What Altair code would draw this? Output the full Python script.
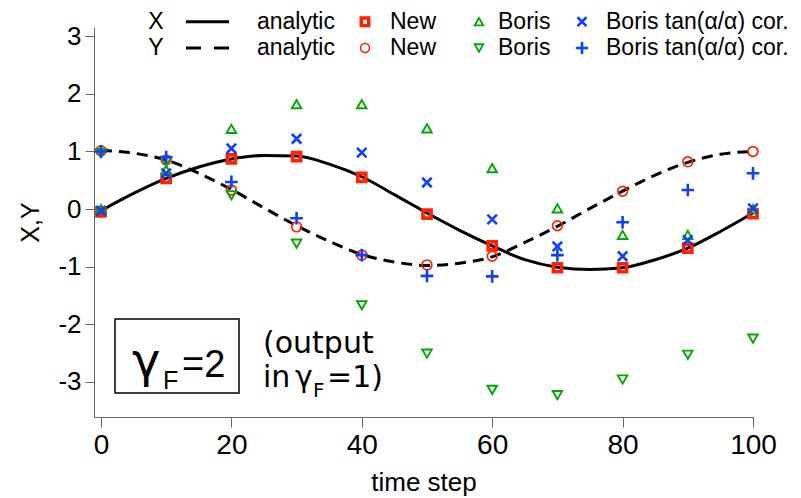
import altair as alt
import pandas as pd

# ---------------- data ----------------
t_marks = [0, 10, 20, 30, 40, 50, 60, 70, 80, 90, 100]
new_x = [-0.05, 0.53, 0.87, 0.91, 0.55, -0.09, -0.64, -1.02, -1.02, -0.68, -0.08]
new_y = [1.01, 0.85, 0.33, -0.31, -0.80, -0.97, -0.82, -0.29, 0.31, 0.82, 1.00]
boris_x = [0.00, 0.68, 1.39, 1.82, 1.82, 1.40, 0.71, 0.01, -0.45, -0.45, 0.00]
boris_y = [0.97, 0.82, 0.24, -0.60, -1.67, -2.51, -3.14, -3.23, -2.96, -2.53, -2.25]
cor_x = [-0.03, 0.62, 1.05, 1.22, 0.98, 0.46, -0.18, -0.65, -0.82, -0.54, 0.01]
cor_y = [1.00, 0.90, 0.47, -0.16, -0.80, -1.16, -1.17, -0.80, -0.23, 0.33, 0.62]

t_analytic = [0, 5, 10, 15, 20, 25, 30, 35, 40, 45, 50,
              55, 60, 65, 70, 75, 80, 85, 90, 95, 100]
analytic_x = [-0.03, 0.27, 0.53, 0.73, 0.87, 0.93, 0.92, 0.78, 0.56, 0.25, -0.07,
              -0.37, -0.64, -0.88, -1.01, -1.05, -1.02, -0.88, -0.68, -0.39, -0.07]
analytic_y = [1.02, 0.97, 0.85, 0.62, 0.34, 0.02, -0.29, -0.56, -0.79, -0.92, -0.98,
              -0.94, -0.83, -0.58, -0.30, 0.01, 0.31, 0.59, 0.81, 0.95, 1.00]

x_ticks = [0, 20, 40, 60, 80, 100]
y_ticks = [-3, -2, -1, 0, 1, 2, 3]

# ---------------- styling ----------------
RED = "#ff2200"
GREEN = "#00a800"
BLUE = "#1040ff"
FONT = "Liberation Sans"
HAND = "DejaVu Sans"
X_SHAPE = "M-1,-1L1,1M-1,1L1,-1"
PLUS_SHAPE = "M-1,0L1,0M0,-1L0,1"

W, H = 659, 390
xs = alt.Scale(domain=[-1.07, 100], nice=False, zero=False)
ys = alt.Scale(domain=[-3.611, 3.16], nice=False, zero=False)

x_axis = alt.Axis(values=x_ticks, title="time step", grid=False,
                  labelFont=FONT, labelFontSize=28, labelColor="black",
                  titleFont=FONT, titleFontSize=26, titleFontWeight="normal",
                  titleColor="black", tickSize=10, tickColor="#666",
                  domainColor="#666", labelPadding=4, titlePadding=10,
                  labelFlush=False, labelOverlap=False)
y_axis = alt.Axis(values=y_ticks, title="X,Y", grid=False,
                  labelExpr="'' + datum.value",
                  labelFont=FONT, labelFontSize=26, labelColor="black",
                  titleFont=FONT, titleFontSize=25, titleFontWeight="normal",
                  titleColor="black", tickSize=9, tickColor="#666",
                  domainColor="#666", labelPadding=4, titlePadding=14,
                  labelFlush=False, labelOverlap=False)


def series(t, v):
    return pd.DataFrame({"t": t, "v": v})


def enc(ch):
    return ch.encode(
        x=alt.X("t:Q", scale=xs, axis=x_axis),
        y=alt.Y("v:Q", scale=ys, axis=y_axis),
    )


line_x = enc(alt.Chart(series(t_analytic, analytic_x)).mark_line(
    color="black", strokeWidth=3, interpolate="monotone"))
line_y = enc(alt.Chart(series(t_analytic, analytic_y)).mark_line(
    color="black", strokeWidth=3, strokeDash=[11, 7], interpolate="monotone"))

pt_new_x = enc(alt.Chart(series(t_marks, new_x)).mark_point(
    shape="square", filled=False, color=RED, size=64, strokeWidth=3.7, opacity=1))
pt_new_y = enc(alt.Chart(series(t_marks, new_y)).mark_point(
    shape="circle", filled=False, color=RED, size=95, strokeWidth=1.7, opacity=1))
pt_boris_x = enc(alt.Chart(series(t_marks, boris_x)).mark_point(
    shape="triangle-up", filled=False, color=GREEN, size=90, strokeWidth=1.9, opacity=1))
pt_boris_y = enc(alt.Chart(series(t_marks, boris_y)).mark_point(
    shape="triangle-down", filled=False, color=GREEN, size=90, strokeWidth=1.9, opacity=1))
pt_cor_x = enc(alt.Chart(series(t_marks, cor_x)).mark_point(
    shape=X_SHAPE, filled=False, color=BLUE, size=90, strokeWidth=2.6, opacity=1))
pt_cor_y = enc(alt.Chart(series(t_marks, cor_y)).mark_point(
    shape=PLUS_SHAPE, filled=False, color=BLUE, size=160, strokeWidth=2.6, opacity=1))

# ---------------- legend & annotations (pixel layout) ----------------
one = alt.Data(values=[{"k": 1}])


def txt(s, x, y, size, font=FONT, align="left", baseline="middle"):
    return alt.Chart(one).mark_text(text=s, fontSize=size, font=font, align=align,
                                    baseline=baseline, color="black").encode(
        x=alt.value(x), y=alt.value(y))


def sym(shape, x, y, color, size, sw):
    return alt.Chart(one).mark_point(shape=shape, filled=False, color=color, size=size,
                                     strokeWidth=sw, opacity=1).encode(
        x=alt.value(x), y=alt.value(y))


R1, R2 = -5.3, 21.0
LEG = 23
legend = [
    txt("X", 62, R1, LEG, align="center"),
    txt("Y", 62, R2, LEG, align="center"),
    alt.Chart(one).mark_rule(color="black", strokeWidth=3).encode(
        x=alt.value(92), x2=alt.value(135), y=alt.value(R1)),
    alt.Chart(one).mark_rule(color="black", strokeWidth=3, strokeDash=[15, 13]).encode(
        x=alt.value(92), x2=alt.value(135), y=alt.value(R2)),
    txt("analytic", 163, R1, LEG),
    txt("analytic", 163, R2, LEG),
    sym("square", 271, R1, RED, 56, 3.5),
    sym("circle", 271, R2, RED, 80, 1.6),
    txt("New", 296, R1, LEG),
    txt("New", 296, R2, LEG),
    sym("triangle-up", 385, R1, GREEN, 75, 1.8),
    sym("triangle-down", 385, R2, GREEN, 75, 1.8),
    txt("Boris", 404, R1, LEG),
    txt("Boris", 404, R2, LEG),
    sym(X_SHAPE, 488, R1, BLUE, 80, 2.6),
    sym(PLUS_SHAPE, 488, R2, BLUE, 150, 2.6),
    txt("Boris tan(\u03b1/\u03b1) cor.", 512, R1, LEG),
    txt("Boris tan(\u03b1/\u03b1) cor.", 512, R2, LEG),
]

box = alt.Chart(one).mark_rect(fill="white", stroke="black", strokeWidth=1.5).encode(
    x=alt.value(21), x2=alt.value(145), y=alt.value(292), y2=alt.value(366))

notes = [
    box,
    txt("\u03b3", 38, 350, 48, font="DejaVu Sans", baseline="alphabetic"),
    txt("F", 69, 362, 25, baseline="alphabetic"),
    txt("=2", 88, 350, 38, baseline="alphabetic"),
    txt("(output", 169, 326, 30, font=HAND, baseline="alphabetic"),
    txt("in", 169, 360, 30, font=HAND, baseline="alphabetic"),
    txt("\u03b3", 201, 360, 30, font=HAND, baseline="alphabetic"),
    txt("F", 219, 370, 20, font=HAND, baseline="alphabetic"),
    txt("=1)", 233, 360, 30, font=HAND, baseline="alphabetic"),
]

chart = alt.layer(
    line_x, line_y,
    pt_new_x, pt_new_y, pt_boris_x, pt_boris_y, pt_cor_x, pt_cor_y,
    *notes, *legend,
).properties(
    width=W, height=H,
    padding={"left": 94, "top": 27, "right": 48, "bottom": 81},
    autosize=alt.AutoSizeParams(type="none"),
    background="white",
).configure_view(stroke=None)

chart.save("out.html", embed_options={"renderer": "svg", "actions": False})
